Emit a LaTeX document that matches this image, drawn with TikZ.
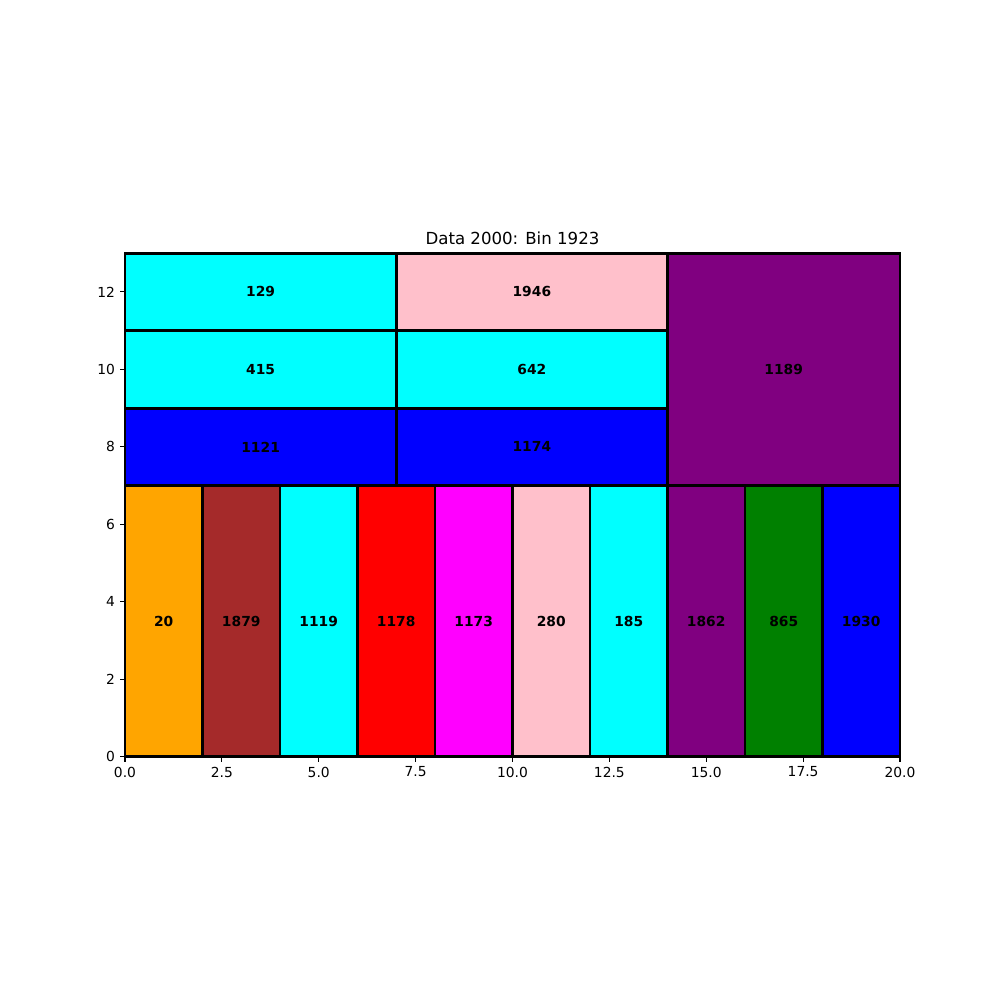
\documentclass[tikz,border=0pt]{standalone}
\usepackage{fontspec}
\setmainfont{DejaVu Sans}
\usepackage{tikz}
\usetikzlibrary{positioning}
\usepackage{xcolor}
\definecolor{binOrange}{RGB}{255, 165, 0}
\definecolor{binBrown}{RGB}{165, 42, 42}
\definecolor{binCyan}{RGB}{0, 255, 255}
\definecolor{binRed}{RGB}{255, 0, 0}
\definecolor{binMagenta}{RGB}{255, 0, 255}
\definecolor{binPink}{RGB}{255, 192, 203}
\definecolor{binPurple}{RGB}{128, 0, 128}
\definecolor{binGreen}{RGB}{0, 128, 0}
\definecolor{binBlue}{RGB}{0, 0, 255}

\begin{document}
\begin{tikzpicture}[x=0.3875in, y=0.3875in, font=\fontsize{10}{12}\selectfont,
    item/.style={draw=black, line width=2pt},
    itemlabel/.style={inner sep=0pt, font=\fontsize{10}{12}\selectfont\bfseries},
    tick/.style={line width=0.8pt}]
  \useasboundingbox (-3.2258,-6.2742) rectangle (22.5806,19.5329);

  % Bottom row of items, width 2 and height 7
  \foreach \c/\lab [count=\i from 0] in {binOrange/20, binBrown/1879, binCyan/1119,
      binRed/1178, binMagenta/1173, binPink/280, binCyan/185, binPurple/1862,
      binGreen/865, binBlue/1930} {
    \draw[item, fill=\c] (2*\i, 0) rectangle ++(2, 7);
    \node[itemlabel] (low\i) at (2*\i+1, 3.5) {\lab};
  }

  % Upper items
  \draw[item, fill=binBlue] (0, 7) rectangle (7, 9);
  \node[itemlabel] (up1121) at (3.5, 8) {1121};
  \draw[item, fill=binCyan] (0, 9) rectangle (7, 11);
  \node[itemlabel] (up415) at (3.5, 10) {415};
  \draw[item, fill=binCyan] (0, 11) rectangle (7, 13);
  \node[itemlabel] (up129) at (3.5, 12) {129};
  \draw[item, fill=binBlue] (7, 7) rectangle (14, 9);
  \node[itemlabel] (up1174) at (10.5, 8) {1174};
  \draw[item, fill=binCyan] (7, 9) rectangle (14, 11);
  \node[itemlabel] (up642) at (10.5, 10) {642};
  \draw[item, fill=binPink] (7, 11) rectangle (14, 13);
  \node[itemlabel] (up1946) at (10.5, 12) {1946};
  \draw[item, fill=binPurple] (14, 7) rectangle (20, 13);
  \node[itemlabel] (up1189) at (17, 10) {1189};

  % Axes frame and ticks
  \draw[tick] (0, 0) rectangle (20, 13);
  \foreach \x/\t in {0/0.0, 2.5/2.5, 5/5.0, 7.5/7.5, 10/10.0, 12.5/12.5, 15/15.0, 17.5/17.5, 20/20.0} {
    \draw[tick] (\x, 0) -- ++(0, -3.5pt);
    \node[anchor=north, inner sep=0pt] (xt\x) at ([yshift=-7pt]\x, 0) {\t};
  }
  \foreach \y in {0, 2, ..., 12} {
    \draw[tick] (0, \y) -- ++(-3.5pt, 0);
    \node[anchor=east, inner sep=0pt] (yt\y) at ([xshift=-7pt]0, \y) {\y};
  }

  \node[anchor=base, inner sep=0pt, font=\fontsize{12}{14}\selectfont] (title)
    at ([yshift=6pt]10, 13) {Data 2000: Bin 1923};
\end{tikzpicture}
\end{document}
